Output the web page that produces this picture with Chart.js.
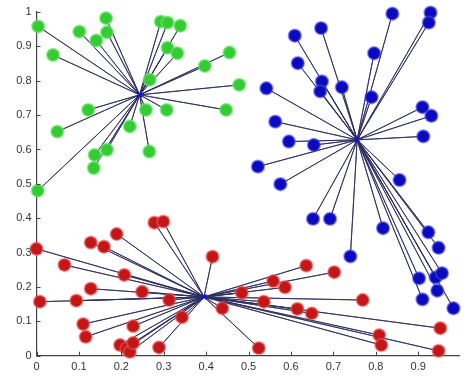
<!DOCTYPE html>
<html>
<head>
<meta charset="utf-8">
<script src="https://cdn.jsdelivr.net/npm/chart.js@4/dist/chart.umd.min.js"></script>
<style>
html,body{margin:0;padding:0;background:#fff;}
#wrap{width:468px;height:378px;}
</style>
</head>
<body>
<div id="wrap"><canvas id="c" width="468" height="378"></canvas></div>
<script>
// Tick values and labels
const xTicks = [0,0.1,0.2,0.3,0.4,0.5,0.6,0.7,0.8,0.9];
const xTickLabels = ['0','0.1','0.2','0.3','0.4','0.5','0.6','0.7','0.8','0.9'];
const yTicks = [0,0.1,0.2,0.3,0.4,0.5,0.6,0.7,0.8,0.9,1];
const yTickLabels = ['0','0.1','0.2','0.3','0.4','0.5','0.6','0.7','0.8','0.9','1'];

// Cluster 1 (green)
const greenX = [0.004,0.039,0.101,0.164,0.166,0.141,0.122,0.049,0.003,0.137,0.135,0.166,0.220,0.258,0.266,0.307,0.293,0.309,0.339,0.309,0.332,0.397,0.455,0.447,0.478,0.267];
const greenY = [0.958,0.875,0.943,0.982,0.941,0.917,0.715,0.652,0.480,0.584,0.546,0.599,0.667,0.715,0.594,0.715,0.972,0.969,0.960,0.896,0.880,0.843,0.882,0.715,0.788,0.803];
const greenCentroid = [0.243,0.759];

// Cluster 2 (blue)
const blueX = [0.609,0.671,0.839,0.929,0.925,0.616,0.796,0.673,0.669,0.720,0.790,0.542,0.563,0.595,0.654,0.522,0.575,0.910,0.931,0.912,0.856,0.652,0.692,0.740,0.817,0.924,0.948,0.902,0.941,0.956,0.945,0.910,0.983];
const blueY = [0.931,0.953,0.995,0.998,0.969,0.851,0.880,0.798,0.769,0.781,0.752,0.778,0.681,0.623,0.613,0.550,0.499,0.723,0.698,0.638,0.511,0.398,0.398,0.289,0.371,0.359,0.314,0.225,0.228,0.240,0.189,0.164,0.138];
const blueCentroid = [0.756,0.628];

// Cluster 3 (red)
const redX = [0.000,0.008,0.066,0.094,0.128,0.159,0.189,0.207,0.128,0.110,0.116,0.249,0.313,0.228,0.197,0.212,0.220,0.228,0.289,0.343,0.278,0.299,0.415,0.438,0.484,0.536,0.558,0.586,0.636,0.702,0.615,0.649,0.769,0.808,0.813,0.952,0.948,0.524];
const redY = [0.311,0.157,0.264,0.160,0.329,0.317,0.354,0.235,0.195,0.092,0.055,0.186,0.162,0.086,0.031,0.021,0.011,0.037,0.024,0.112,0.387,0.390,0.288,0.138,0.183,0.157,0.217,0.199,0.262,0.243,0.136,0.123,0.162,0.060,0.031,0.080,0.014,0.022];
const redCentroid = [0.395,0.171];

function pts(xs, ys){ return xs.map((x,i)=>({x:x,y:ys[i]})); }
function spokes(xs, ys, c){
  const d=[];
  xs.forEach((x,i)=>{ d.push({x:c[0],y:c[1]}); d.push({x:x,y:ys[i]}); });
  d.push({x:c[0],y:c[1]});
  return d;
}

const lineColor = 'rgba(45,45,95,0.85)';
function lineDs(xs, ys, c){
  return {type:'scatter', data:spokes(xs,ys,c), showLine:true, borderColor:lineColor, borderWidth:1,
          pointRadius:0, order:2, clip:false};
}
function ptDs(xs, ys, fill, halo){
  return {type:'scatter', data:pts(xs,ys), backgroundColor:fill, borderColor:halo, borderWidth:2,
          pointRadius:6.2, order:0, clip:false};
}
function cenDs(c){
  return {type:'scatter', data:[{x:c[0],y:c[1]}], pointStyle:'crossRot', pointRadius:3.5,
          borderColor:'#1010e0', borderWidth:1.5, order:1, clip:false};
}

const inwardTicks = {
  id:'inwardTicks',
  afterDraw(chart){
    const ctx = chart.ctx, xs = chart.scales.x, ys = chart.scales.y, a = chart.chartArea;
    ctx.save();
    ctx.strokeStyle = '#444';
    ctx.lineWidth = 1;
    ctx.beginPath();
    xTicks.forEach(v=>{ const p=Math.round(xs.getPixelForValue(v))+0.5; ctx.moveTo(p,a.bottom); ctx.lineTo(p,a.bottom-4); });
    yTicks.forEach(v=>{ const p=Math.round(ys.getPixelForValue(v))+0.5; ctx.moveTo(a.left,p); ctx.lineTo(a.left+4,p); });
    ctx.stroke();
    ctx.restore();
  }
};

new Chart(document.getElementById('c'), {
  type:'scatter',
  data:{datasets:[
    lineDs(greenX,greenY,greenCentroid),
    lineDs(blueX,blueY,blueCentroid),
    lineDs(redX,redY,redCentroid),
    cenDs(greenCentroid), cenDs(blueCentroid), cenDs(redCentroid),
    ptDs(greenX,greenY,'#33cc33','rgba(110,225,110,0.6)'),
    ptDs(blueX,blueY,'#0a0ac0','rgba(70,70,220,0.55)'),
    ptDs(redX,redY,'#c41616','rgba(225,90,90,0.55)')
  ]},
  options:{
    responsive:false, animation:false, events:[],
    layout:{padding:{top:12,right:0,left:0,bottom:0}},
    plugins:{legend:{display:false}, tooltip:{enabled:false}},
    scales:{
      x:{type:'linear', min:0, max:0.998,
         afterBuildTicks(s){ s.ticks = xTicks.map(v=>({value:v})); },
         afterFit(s){ s.height = 22.3; },
         grid:{display:true, drawOnChartArea:false, drawTicks:false},
         border:{display:true, color:'#444', width:1.2},
         ticks:{padding:5, autoSkip:false, maxRotation:0, color:'#333',
                font:{family:'Liberation Sans, Arial, sans-serif', size:11},
                callback:(v,i)=>xTickLabels[i]}},
      y:{type:'linear', min:0, max:1,
         afterBuildTicks(s){ s.ticks = yTicks.map(v=>({value:v})); },
         afterFit(s){ s.width = 36.5; },
         grid:{display:true, drawOnChartArea:false, drawTicks:false},
         border:{display:true, color:'#444', width:1.2},
         ticks:{padding:5, autoSkip:false, color:'#333',
                font:{family:'Liberation Sans, Arial, sans-serif', size:11},
                callback:(v,i)=>yTickLabels[i]}}
    }
  },
  plugins:[inwardTicks]
});
</script>
</body>
</html>
